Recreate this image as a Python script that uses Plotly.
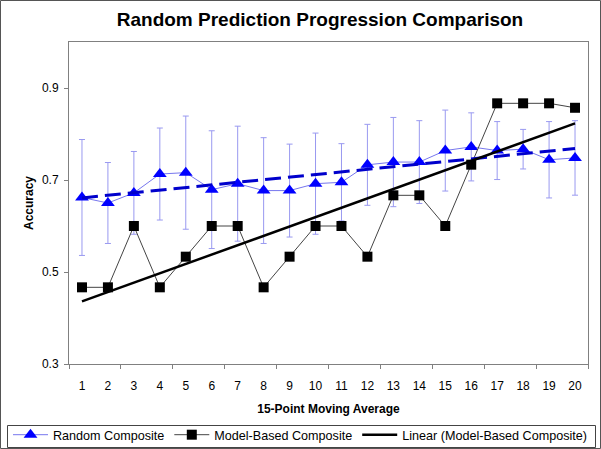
import numpy as np
import plotly.graph_objects as go

categories = list(range(1, 21))
random_composite = [0.662, 0.650, 0.672, 0.713, 0.716, 0.679, 0.692, 0.677, 0.677, 0.692,
                    0.695, 0.733, 0.739, 0.739, 0.764, 0.772, 0.764, 0.767, 0.744, 0.748]
random_err = [0.126, 0.088, 0.090, 0.100, 0.123, 0.128, 0.125, 0.115, 0.101, 0.110,
              0.084, 0.088, 0.097, 0.090, 0.088, 0.074, 0.063, 0.043, 0.083, 0.081]
model_composite = [0.4667, 0.4667, 0.6, 0.4667, 0.5333, 0.6, 0.6, 0.4667, 0.5333, 0.6,
                   0.6, 0.5333, 0.6667, 0.6667, 0.6, 0.7333, 0.8667, 0.8667, 0.8667, 0.857]
y_ticks = [0.3, 0.5, 0.7, 0.9]

x = np.array(categories, dtype=float)
rc = np.polyfit(x, random_composite, 1)
mc = np.polyfit(x, model_composite, 1)
rand_trend = np.polyval(rc, x)
model_trend = np.polyval(mc, x)

FONT = "Liberation Sans, Arial, sans-serif"

fig = go.Figure()
fig.add_trace(go.Scatter(
    x=categories, y=random_composite, name="Random Composite", mode="lines+markers",
    line=dict(color="#7777ee", width=1),
    marker=dict(symbol="triangle-up", size=12, color="#0000ff", line=dict(width=0)),
    error_y=dict(type="data", array=random_err, visible=True, color="#9999f0", thickness=1, width=3),
))
fig.add_trace(go.Scatter(
    x=categories, y=model_composite, name="Model-Based Composite", mode="lines+markers",
    line=dict(color="#444444", width=1),
    marker=dict(symbol="square", size=10, color="#000000", line=dict(width=0)),
))
fig.add_trace(go.Scatter(
    x=categories, y=rand_trend, name="Linear (Random Composite)", mode="lines",
    line=dict(color="#0000cc", width=3, dash="16px,7px"), showlegend=False,
))
fig.add_trace(go.Scatter(
    x=categories, y=model_trend, name="Linear (Model-Based Composite)", mode="lines",
    line=dict(color="#000000", width=2.5),
))

L, R, T, B = 69, 13, 42, 85
W, H = 601, 449
pw, ph = W - L - R, H - T - B
pb = T + ph  # plot bottom in px


def px_x(v):
    return (v - L) / pw


def px_y(v):
    return (pb - v) / ph


fig.update_layout(
    width=W, height=H,
    margin=dict(l=L, r=R, t=T, b=B, autoexpand=False),
    paper_bgcolor="white", plot_bgcolor="white",
    font=dict(family=FONT, size=12, color="#000000"),
    title=dict(text="<b>Random Prediction Progression Comparison</b>",
               font=dict(family=FONT, size=19, color="#000000"),
               x=320 / W, xanchor="center", xref="container",
               y=1 - 19 / H, yanchor="middle", yref="container"),
    showlegend=True,
    legend=dict(orientation="h", x=px_x(8), xanchor="left",
                y=px_y(420), yanchor="top",
                borderwidth=0, bgcolor="rgba(0,0,0,0)",
                font=dict(family=FONT, size=12.6), itemwidth=35,
                tracegroupgap=0),
    xaxis=dict(
        range=[0.5, 20.5], tickmode="array", tickvals=categories,
        ticktext=[str(c) for c in categories], ticks="",
        showline=True, linecolor="#808080", linewidth=1, mirror=True,
        showgrid=False, zeroline=False,
        ticklabelstandoff=11,
        minor=dict(ticks="outside", tick0=0.5, dtick=2, ticklen=4, tickcolor="#808080", showgrid=False),
        title=dict(text="<b>15-Point Moving Average</b>", font=dict(family=FONT, size=12), standoff=12),
        fixedrange=True,
    ),
    yaxis=dict(
        range=[0.3, 1.0], tickmode="array", tickvals=y_ticks,
        ticktext=[f"{v:.1f}" for v in y_ticks],
        ticks="outside", ticklen=4, tickcolor="#808080",
        showline=True, linecolor="#808080", linewidth=1, mirror=True,
        showgrid=False, zeroline=False, ticklabelstandoff=3,
        title=dict(text="<b>Accuracy</b>", font=dict(family=FONT, size=12), standoff=5),
        fixedrange=True,
    ),
    shapes=[
        dict(type="rect", xref="paper", yref="paper",
             x0=px_x(0.5), x1=px_x(W - 0.5), y0=px_y(H - 0.5), y1=px_y(0.5),
             line=dict(color="#555555", width=1), layer="below"),
        dict(type="rect", xref="paper", yref="paper",
             x0=px_x(7.5), x1=px_x(595.5), y0=px_y(447.5), y1=px_y(425.5),
             line=dict(color="#444444", width=1), fillcolor="rgba(0,0,0,0)", layer="below"),
    ],
)

fig.write_html("out.html", config={"displayModeBar": False},
               post_script="document.body.style.margin='0';document.body.style.overflow='hidden';")
